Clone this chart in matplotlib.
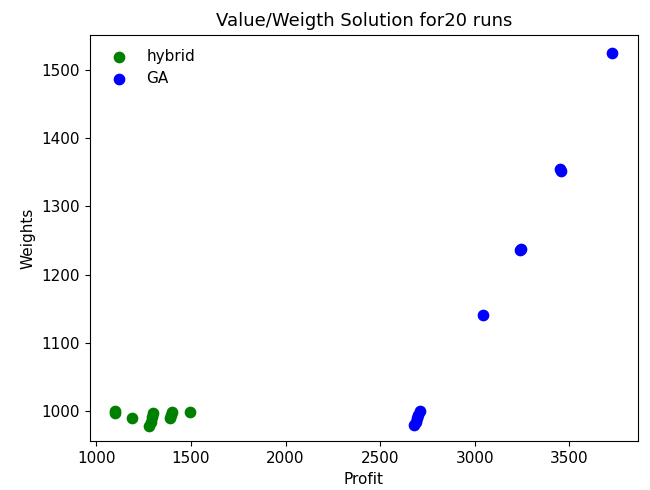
import matplotlib
matplotlib.use("Agg")
import matplotlib.pyplot as plt

hybrid_profit = [1097, 1100, 1187, 1280, 1288, 1295, 1302, 1390, 1395, 1400, 1494]
hybrid_weight = [1000, 997, 991, 978, 985, 992, 998, 990, 995, 999, 999]

ga_profit = [2680, 2688, 2695, 2702, 2708, 3041, 3243, 3238, 3455, 3450, 3725]
ga_weight = [980, 985, 990, 995, 1000, 1141, 1238, 1236, 1352, 1355, 1525]

title = "Value/Weigth Solution for20 runs"
xlabel = "Profit"
ylabel = "Weights"

fig = plt.figure(figsize=(6.5, 4.9), dpi=100)
ax = fig.add_axes([0.138, 0.099, 0.844, 0.83])
ax.scatter(hybrid_profit, hybrid_weight, color="green", s=55, label="hybrid")
ax.scatter(ga_profit, ga_weight, color="blue", s=55, label="GA")
ax.set_xlim(965, 3864)
ax.set_ylim(956, 1551)
ax.set_xticks([1000, 1500, 2000, 2500, 3000, 3500])
ax.set_yticks([1000, 1100, 1200, 1300, 1400, 1500])
ax.tick_params(labelsize=11)
ax.set_title(title, fontsize=13)
ax.set_xlabel(xlabel, fontsize=11)
ax.set_ylabel(ylabel, fontsize=11)
ax.legend(loc="upper left", frameon=False, fontsize=11)
fig.savefig("out.png", dpi=100)
